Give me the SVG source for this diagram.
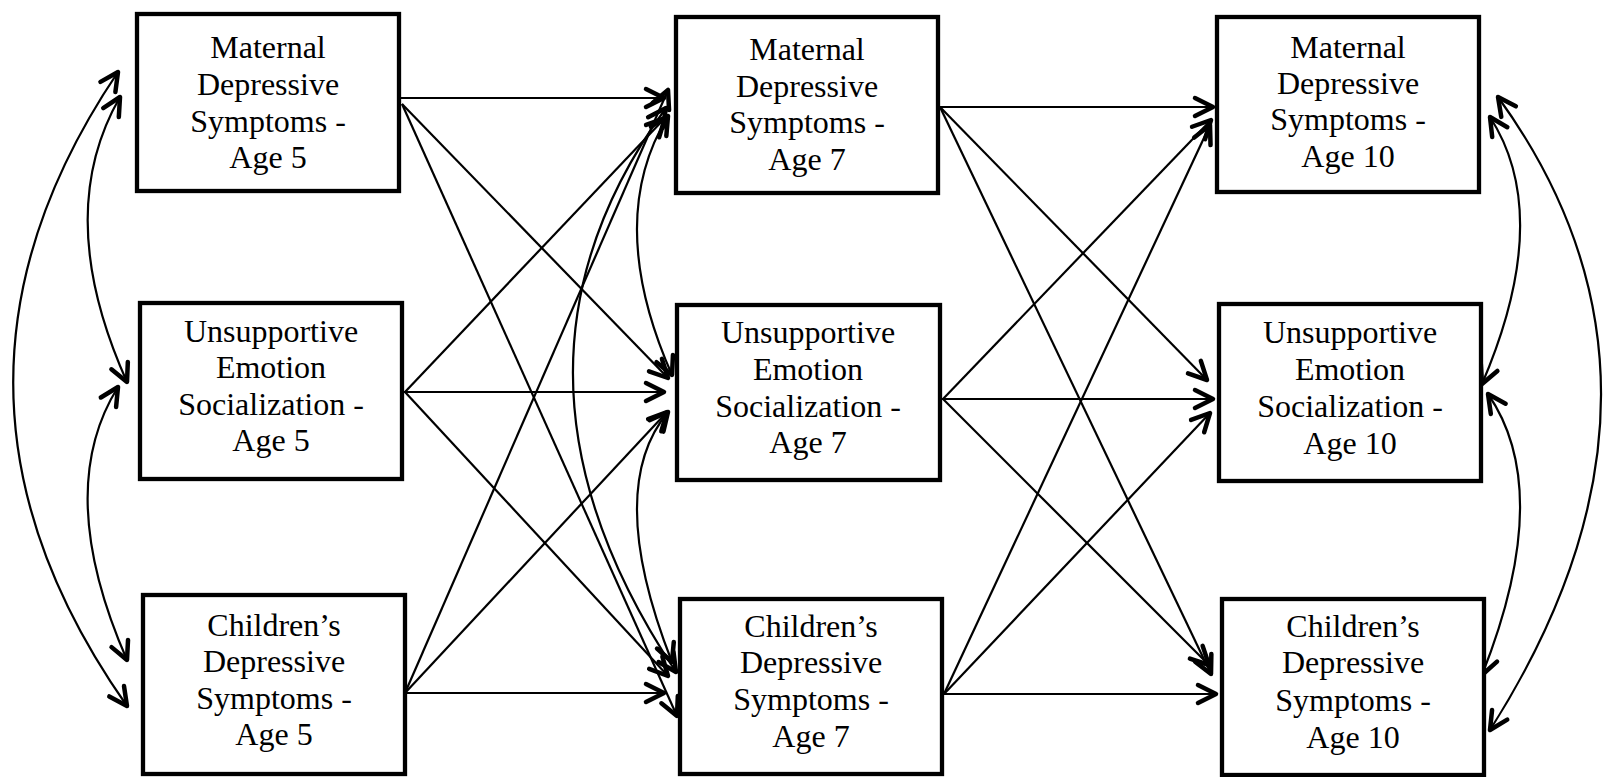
<svg xmlns="http://www.w3.org/2000/svg" width="1604" height="777" viewBox="0 0 1604 777">
<style>
.box rect{fill:#fff;stroke:#000;stroke-width:4.3}
.box text{font-family:"Liberation Serif","Times New Roman",serif;font-size:32px;fill:#000;text-anchor:middle}
.c path,.c line{fill:none;stroke:#000;stroke-width:2.2;marker-end:url(#ah)}
.c path.cov{marker-start:url(#ah)}
</style>
<defs>
<marker id="ah" viewBox="-26 -15 32 30" refX="0" refY="0" markerWidth="32" markerHeight="30" markerUnits="userSpaceOnUse" orient="auto-start-reverse" overflow="visible">
<path d="M-18,-9 L0,0 L-18,9" fill="none" stroke="#000" stroke-width="4.5" stroke-linecap="round" stroke-linejoin="round"/>
</marker>
</defs>
<rect width="1604" height="777" fill="#fff"/>
<g id="connectors" class="c">
<line x1="401" y1="98" x2="664" y2="98"/>
<line x1="402" y1="104" x2="668" y2="378"/>
<line x1="402" y1="104" x2="677" y2="716"/>
<line x1="405" y1="392" x2="665" y2="118"/>
<line x1="404" y1="392" x2="664" y2="392"/>
<line x1="405" y1="392" x2="668" y2="676"/>
<line x1="405" y1="693" x2="668" y2="90"/>
<line x1="405" y1="693" x2="667" y2="412"/>
<line x1="405" y1="693" x2="664" y2="693"/>
<line x1="940" y1="107" x2="1213" y2="107"/>
<line x1="940" y1="107" x2="1207" y2="380"/>
<line x1="940" y1="107" x2="1211" y2="674"/>
<line x1="943" y1="399" x2="1211" y2="120"/>
<line x1="936" y1="399" x2="1213" y2="399"/>
<line x1="943" y1="399" x2="1209" y2="665"/>
<line x1="944" y1="694" x2="1210" y2="125"/>
<line x1="944" y1="694" x2="1210" y2="413"/>
<line x1="944" y1="694" x2="1216" y2="694"/>
<path class="cov" d="M120,97 Q52,215 127,382"/>
<path class="cov" d="M118,387 Q53,491 127,660"/>
<path class="cov" d="M118,72 Q-96,389 127,706"/>
<path class="cov" d="M668,116 Q604,221 672,375"/>
<path class="cov" d="M668,412 Q604,489 672,662"/>
<path class="cov" d="M666,108 Q475,370 676,672"/>
<path class="cov" d="M1490,117 Q1554,216 1482,384"/>
<path class="cov" d="M1488,394 Q1555,491 1482,675"/>
<path class="cov" d="M1498,97 Q1708,387 1490,730"/>
</g>
<g id="m5" class="box"><rect x="137" y="14" width="262" height="177"/>
<text x="268" y="58">Maternal</text><text x="268" y="95">Depressive</text><text x="268" y="132">Symptoms -</text><text x="268" y="168">Age 5</text></g>
<g id="u5" class="box"><rect x="140" y="303" width="262" height="176"/>
<text x="271" y="342">Unsupportive</text><text x="271" y="378">Emotion</text><text x="271" y="415">Socialization -</text><text x="271" y="451">Age 5</text></g>
<g id="c5" class="box"><rect x="143" y="595" width="262" height="179"/>
<text x="274" y="636">Children’s</text><text x="274" y="672">Depressive</text><text x="274" y="709">Symptoms -</text><text x="274" y="745">Age 5</text></g>
<g id="m7" class="box"><rect x="676" y="17" width="262" height="176"/>
<text x="807" y="60">Maternal</text><text x="807" y="97">Depressive</text><text x="807" y="133">Symptoms -</text><text x="807" y="170">Age 7</text></g>
<g id="u7" class="box"><rect x="677" y="305" width="263" height="175"/>
<text x="808" y="343">Unsupportive</text><text x="808" y="380">Emotion</text><text x="808" y="417">Socialization -</text><text x="808" y="453">Age 7</text></g>
<g id="c7" class="box"><rect x="680" y="599" width="262" height="175"/>
<text x="811" y="637">Children’s</text><text x="811" y="673">Depressive</text><text x="811" y="710">Symptoms -</text><text x="811" y="747">Age 7</text></g>
<g id="m10" class="box"><rect x="1217" y="17" width="262" height="175"/>
<text x="1348" y="58">Maternal</text><text x="1348" y="94">Depressive</text><text x="1348" y="130">Symptoms -</text><text x="1348" y="167">Age 10</text></g>
<g id="u10" class="box"><rect x="1219" y="304" width="262" height="177"/>
<text x="1350" y="343">Unsupportive</text><text x="1350" y="380">Emotion</text><text x="1350" y="417">Socialization -</text><text x="1350" y="454">Age 10</text></g>
<g id="c10" class="box"><rect x="1222" y="599" width="262" height="176"/>
<text x="1353" y="637">Children’s</text><text x="1353" y="673">Depressive</text><text x="1353" y="711">Symptoms -</text><text x="1353" y="748">Age 10</text></g>
</svg>
